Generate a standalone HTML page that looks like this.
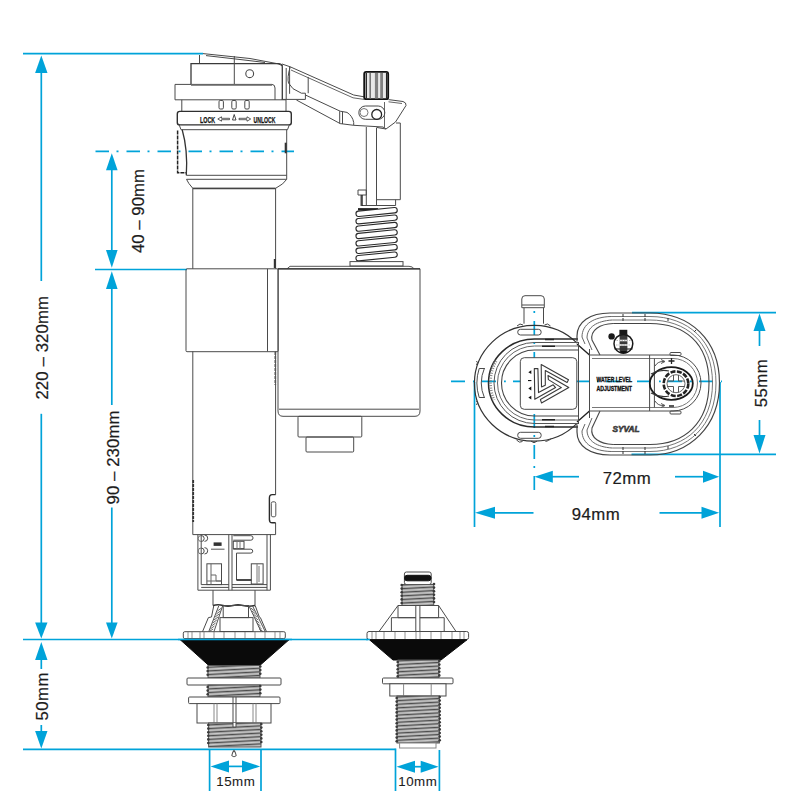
<!DOCTYPE html>
<html><head><meta charset="utf-8">
<style>
html,body{margin:0;padding:0;background:#fff;width:800px;height:800px;overflow:hidden}
svg{display:block}
text{font-family:"Liberation Sans",sans-serif}
</style></head><body>
<svg width="800" height="800" viewBox="0 0 800 800">
<defs>
<pattern id="thr" width="80" height="3.6" patternUnits="userSpaceOnUse" patternTransform="rotate(-3)">
  <rect width="80" height="3.6" fill="#a3a3a3"/>
  <rect y="0" width="80" height="1" fill="#4d4d4d"/>
  <rect y="1.9" width="80" height="0.9" fill="#d0d0d0"/>
</pattern>
</defs>
<!-- ============ BLUE DIMENSIONS ============ -->
<g stroke="#00a3d9" stroke-width="1.7" fill="none">
  <!-- top reference -->
  <line x1="23" y1="53.6" x2="203" y2="53.6"/>
  <!-- 220-320 vertical -->
  <line x1="41.3" y1="70" x2="41.3" y2="281"/>
  <line x1="41.3" y1="413.8" x2="41.3" y2="625"/>
  <!-- dash dot water level -->
  <line x1="95.5" y1="151.3" x2="294" y2="151.3" stroke-dasharray="13.5 7.5 2 8"/>
  <!-- 40-90 vertical -->
  <line x1="111.8" y1="168" x2="111.8" y2="252"/>
  <!-- level 269 -->
  <line x1="95" y1="269.5" x2="187" y2="269.5"/>
  <!-- 90-230 vertical -->
  <line x1="111.8" y1="287" x2="111.8" y2="405"/>
  <line x1="111.8" y1="507.5" x2="111.8" y2="625"/>
  <!-- 639 level -->
  <line x1="23" y1="639.5" x2="368" y2="639.5"/>
  <!-- 50mm -->
  <line x1="41.3" y1="658" x2="41.3" y2="669"/>
  <line x1="41.3" y1="725" x2="41.3" y2="733"/>
  <!-- bottom level -->
  <line x1="23" y1="749.3" x2="395.5" y2="749.3"/>
  <line x1="395.5" y1="748.5" x2="395.5" y2="791"/>
  <line x1="209.6" y1="749.3" x2="209.6" y2="791"/>
  <line x1="261" y1="749.3" x2="261" y2="791"/>
  <line x1="439.4" y1="750" x2="439.4" y2="791"/>
  <line x1="225" y1="766.4" x2="246" y2="766.4"/>
  <line x1="412" y1="766.7" x2="424" y2="766.7"/>
  <!-- right top view -->
  <line x1="451" y1="381.4" x2="722" y2="381.4" stroke-dasharray="14 8 1.8 7.2"/>
  <line x1="534.3" y1="311" x2="534.3" y2="491" stroke-dasharray="2 8 14 7" />
  <line x1="474.5" y1="382" x2="474.5" y2="527"/>
  <line x1="720" y1="382" x2="720" y2="527"/>
  <line x1="632" y1="312.6" x2="776" y2="312.6"/>
  <line x1="631.5" y1="454.3" x2="776" y2="454.3"/>
  <line x1="759.5" y1="329" x2="759.5" y2="346"/>
  <line x1="759.5" y1="420" x2="759.5" y2="437"/>
  <line x1="550" y1="476.7" x2="579" y2="476.7"/>
  <line x1="675" y1="476.7" x2="705" y2="476.7"/>
  <line x1="493" y1="512.8" x2="533.5" y2="512.8"/>
  <line x1="659.5" y1="512.8" x2="703" y2="512.8"/>
</g>
<g fill="#00a3d9">
  <polygon points="41.3,55.5 35.1,73 47.5,73"/>
  <polygon points="41.3,638.5 35.1,622.5 47.5,622.5"/>
  <polygon points="111.8,153.3 106,170.3 117.6,170.3"/>
  <polygon points="111.8,267.7 106,250 117.6,250"/>
  <polygon points="111.8,271.2 106,289 117.6,289"/>
  <polygon points="111.8,638.5 106,622.5 117.6,622.5"/>
  <polygon points="41.3,642 35.1,660 47.5,660"/>
  <polygon points="41.3,748.5 35.1,731 47.5,731"/>
  <polygon points="210.5,766.4 229,760.4 229,772.4"/>
  <polygon points="260.2,766.4 242,760.4 242,772.4"/>
  <polygon points="396.5,766.7 415,760.7 415,772.7"/>
  <polygon points="438.6,766.7 420.7,760.7 420.7,772.7"/>
  <polygon points="759.5,313.5 753.5,331 765.5,331"/>
  <polygon points="759.5,453.5 753.5,435 765.5,435"/>
  <polygon points="534.5,476.7 552.8,470.7 552.8,482.7"/>
  <polygon points="719.2,476.7 703,470.7 703,482.7"/>
  <polygon points="475,512.8 495,506.8 495,518.8"/>
  <polygon points="719.2,512.8 701.5,506.8 701.5,518.8"/>
</g>
<!-- ============ DIMENSION TEXT ============ -->
<g fill="#1c1c1c" font-size="16.8" stroke="#1c1c1c" stroke-width="0.22" letter-spacing="0.5">
  <text transform="translate(47.8,347.8) rotate(-90)" text-anchor="middle" textLength="103.5" lengthAdjust="spacing" letter-spacing="0">220 – 320mm</text>
  <text transform="translate(143.5,211) rotate(-90)" text-anchor="middle" textLength="84" lengthAdjust="spacing" letter-spacing="0">40 – 90mm</text>
  <text transform="translate(118.5,457.5) rotate(-90)" text-anchor="middle" textLength="94" lengthAdjust="spacing" letter-spacing="0">90 – 230mm</text>
  <text transform="translate(47.8,696.3) rotate(-90)" text-anchor="middle">50mm</text>
  <text transform="translate(767.3,383) rotate(-90)" text-anchor="middle">55mm</text>
  <text x="627" y="484" text-anchor="middle">72mm</text>
  <text x="596" y="520" text-anchor="middle">94mm</text>
  <text x="235.8" y="786" text-anchor="middle" font-size="13.3" stroke-width="0.1">15mm</text>
  <text x="417.8" y="785.7" text-anchor="middle" font-size="13.3" stroke-width="0.1">10mm</text>
</g>
<!-- ============ MAIN VALVE DRAWING ============ -->
<g id="main" stroke="#4a4a4a" stroke-width="1" fill="none">
  <!-- lever top slanted lines over cap -->
  <polyline points="203,53.6 250,58.5 278,63.8 283,66"/>
  <polyline points="206,55.6 240,59.5 265,62.5"/>
  <line x1="199.5" y1="55" x2="199.5" y2="63.6"/>
  <!-- cap -->
  <path d="M191,84.4 V63.6 H279 Q282.3,64 282.3,67 V99.8" stroke="#3a3a3a" stroke-width="1.3"/>
  <line x1="234.3" y1="56" x2="234.3" y2="84.4"/>
  <circle cx="249.7" cy="73.7" r="3.9" stroke-width="1.1"/>
  <!-- flange -->
  <path d="M191,84.4 H272 Q275,84.6 275,88 V99.8 M175,84.4 V99.8 H286 M175,84.4 H191"/>
  <line x1="191" y1="84.9" x2="272" y2="84.9" stroke-width="1.8" stroke="#666"/>
  <!-- slotted band -->
  <path d="M181.8,99.8 V111.4 M286,99.8 V111.4"/>
  <rect x="219" y="100.5" width="4.4" height="8.5" rx="1.2"/>
  <rect x="231.8" y="100.5" width="4.4" height="8.5" rx="1.2"/>
  <rect x="244.8" y="100.5" width="4.4" height="8.5" rx="1.2"/>
  <!-- LOCK band -->
  <rect x="177.3" y="111.4" width="114" height="13.5" rx="2.5" stroke="#2f2f2f" stroke-width="1.4"/>
  <path d="M179,124.4 L181,129.7 H287.5 L289.5,124.4"/>
  <!-- upper body -->
  <path d="M182.2,129.7 Q188,150 186.3,175.3" stroke="#333" stroke-width="1.3"/><path d="M286.7,129.7 V179.3"/>
  <path d="M177.6,130.6 V172.8 H186" stroke-dasharray="4 1" stroke="#222" stroke-width="1.5"/>
  <line x1="285.7" y1="142.7" x2="285.7" y2="153.3" stroke-width="2" stroke="#333"/>
  <path d="M186.3,175.3 H286.7 M186.5,179.3 H286.5"/>
  <path d="M186.5,179.3 Q188,183 192.8,188.3 H275.6 Q284,184 286.7,179.3"/>
  <line x1="192.8" y1="188.5" x2="275.6" y2="188.5" stroke-width="1.6" stroke="#444"/>
  <!-- tube -->
  <line x1="192.8" y1="188.3" x2="192.8" y2="268.8"/>
  <line x1="275.6" y1="188.3" x2="275.6" y2="268.8"/>
  <line x1="274.8" y1="259" x2="274.8" y2="268" stroke-width="2" stroke="#333"/>
  <line x1="192.8" y1="351.4" x2="192.8" y2="534.6"/>
  <line x1="275.6" y1="351.4" x2="275.6" y2="494.6"/>
  <line x1="275.6" y1="522.8" x2="275.6" y2="534.6"/>
  <line x1="275.3" y1="352" x2="275.3" y2="385" stroke-width="1.6" stroke="#555" stroke-dasharray="3 1"/>
  <line x1="193.2" y1="480" x2="193.2" y2="522" stroke-width="1.8" stroke="#333" stroke-dasharray="3 1"/>
  <path d="M275.6,494.6 H272.2 Q269.4,494.6 269.4,498 V519.4 Q269.4,522.8 272.2,522.8 H275.6" stroke="#2a2a2a" stroke-width="1.4"/><rect x="271.3" y="501.8" width="4.5" height="15" rx="1.6" stroke="#555"/>
  <line x1="192.8" y1="534.6" x2="275.6" y2="534.6"/>
  <!-- collar -->
  <rect x="186" y="268.8" width="92.2" height="82.9" rx="1"/>
  <line x1="267.5" y1="268.8" x2="267.5" y2="351.4"/>
  <!-- float -->
  <path d="M278,268.8 H420 V411 Q420,416.3 415,416.3 H283 Q278,416.3 278,411 Z"/>
  <line x1="279" y1="409.2" x2="419" y2="409.2"/>
  <path d="M287,268.8 L290,266.3 H409 Q413,266.5 414,268.8" stroke="#555"/><line x1="278" y1="268.9" x2="420" y2="268.9" stroke-width="1.4" stroke="#333"/>
  <rect x="298" y="416.3" width="63.8" height="20.7" rx="1"/>
  <rect x="306" y="437" width="47.7" height="15" rx="1"/>
  <!-- cage -->
  <path d="M197.9,534.6 V590.2 H270.4 V534.6 M267,534.6 V590.2 M228.8,534.6 V590.2 M232,534.6 V590.2"/>
  <!-- cage internals -->
  <path d="M201.2,534.6 V584.6 M201.2,584.6 H228.8 M201.2,587.4 H228.8"/>
  <path d="M201.2,535.5 A3,3 0 0 1 201.2,541.5 M204.5,535 A3.2,3.2 0 0 1 204.5,541.4 M201.2,548 A3,3 0 0 1 201.2,554 M204.5,547.6 A3.2,3.2 0 0 1 204.5,554"/>
  <path d="M201.2,535.5 A3,3 0 0 0 201.2,541.5 M201.2,548 A3,3 0 0 0 201.2,554" stroke="#777"/>
  <rect x="213.6" y="542.4" width="8" height="3.5" fill="#333" stroke="none"/>
  <line x1="211" y1="549.2" x2="224.5" y2="549.2" stroke="#555"/>
  <rect x="206.9" y="563.8" width="14.6" height="20.8"/>
  <path d="M211,563.8 V584.6 M211,575 H216 V581 H221.5 M206.9,581 H221.5" stroke="#666"/>
  <path d="M233.3,535.7 H250.8 A2.25,2.25 0 0 1 250.8,540.2 H233.3 M233.3,549.2 H250.8 A1.95,1.95 0 0 1 250.8,553.1 H236.5 V580 H251.3"/>
  <rect x="233.3" y="541.3" width="10.7" height="7.3"/>
  <path d="M237,541.3 V548.6 M240,541.3 V548.6" stroke="#777"/>
  <rect x="251.3" y="563.8" width="11.8" height="20.2"/>
  <path d="M257,563.8 V584 M259,566 V582" stroke="#777"/>
  <path d="M236.5,580 H251.3" stroke="#222" stroke-width="1.4"/>
  <path d="M232,584.6 H267 M232,587.4 H267"/>
  <!-- neck -->
  <path d="M213,590.2 V605.5 M255,590.2 V605.5"/>
  <path d="M213,605.5 q5,-1.5 10,0 t10,0 t10,0 t12,0" stroke-width="1.6" stroke="#333"/>
  <!-- frustum -->
  <path d="M213.8,605.5 L211.5,617 L208.4,617.6 L202.5,631.7 M255.2,605.5 L259.3,617 L260.4,617.6 L266.5,631.7"/>
  <path d="M218.7,606 L208.8,631.5 M222.6,606 L214,631.5 M249,606 L261,631.5 M252.6,606 L265.2,631.5" stroke="#555"/>
  <rect x="223.2" y="605.5" width="25.3" height="12.1"/>
  <rect x="220" y="617.6" width="33" height="13.9"/>
  <g stroke-width="0.9" stroke="#555">
    <path d="M217.5,611 L221.5,608 M216.3,614 L220.4,611 M215.1,617 L219.2,614 M213.9,620 L218,617 M212.7,623 L216.8,620 M211.5,626 L215.6,623 M210.3,629 L214.4,626 M209.2,631.5 L213.2,629"/>
    <path d="M250.8,608 L254.5,611 M252,611 L255.7,614 M253.2,614 L256.9,617 M254.4,617 L258.1,620 M255.6,620 L259.3,623 M256.8,623 L260.5,626 M258,626 L261.7,629 M259.2,629 L262.9,631.5"/>
  </g>
  <!-- flange -->
  <rect x="183.3" y="631.7" width="102" height="6.9" rx="1.5"/>
  <path d="M188,632 V638 M192,632 V638 M200,632 V638 M204,632 V638 M214,632 V638 M224,632 V638 M235,632 V638 M245,632 V638 M255,632 V638 M265,632 V638 M275,632 V638 M280,632 V638" stroke="#777" stroke-width="0.8"/>
  <!-- black cone -->
  <polygon points="180.3,639.8 289,639.8 259.8,665.5 208.8,665.5" fill="#0a0a0a" stroke="#0a0a0a"/>
  <!-- threads -->
  <rect x="208" y="665.5" width="52" height="12.5" fill="url(#thr)" stroke="#555"/>
  <rect x="187" y="678" width="94" height="7" fill="#fff" rx="1"/>
  <rect x="208" y="685" width="52" height="12" fill="url(#thr)" stroke="#555"/>
  <rect x="188.6" y="697" width="91.4" height="6.6" fill="#fff" rx="1"/>
  <rect x="197" y="703.6" width="74" height="19.4" fill="#fff"/>
  <path d="M214,703.6 V723 M217,703.6 V723 M253,703.6 V723 M256,703.6 V723" stroke="#888"/>
  <path d="M233,697 V727 M236,697 V727 H233"/>
  <rect x="208.6" y="723" width="52.4" height="24" fill="url(#thr)" stroke="#555"/>
  <path d="M233,723 V727 H236 V723" fill="#fff"/>
  <path d="M231.8,755.5 Q232.5,752 234,750.5 Q235.5,752 236.2,755.5 Q234,758 231.8,755.5 Z" stroke="#555" stroke-width="1.1"/>
</g>

<g id="lever" stroke="#4a4a4a" stroke-width="1" fill="none">
  <!-- lever arm -->
  <path d="M282,64 L290.2,66.8 L353.7,95 L364,96.8 M388.5,99.6 L403,101.5 Q406.5,102.5 406,105.5 L395.5,122 L386,129 L377,127.5"/>
  <path d="M291,70 L353,97.8 L364,99.4 M388.5,101.8 L402,103.5" stroke="#666"/>
  <path d="M296.4,100 L340.2,123.6 L353.7,125.3 L383,127 L386,129"/>
  <path d="M305.4,95 L340.2,111.2 L347,112.4 Q352.6,116 353.7,122.5 L353.7,125.3"/>
  <path d="M339.7,111.2 V123.4 M342.5,111.6 V124"/>
  <path d="M290.2,66.8 Q287,78 288.5,83 L293,88.7 L301.4,93.2 H305.4 V99.4 M308.2,77 V93.2"/>
  <path d="M286.2,68 V99.4 M289.6,67 V93.8 M281.7,99.4 H305.4"/>
  <path d="M384.5,102 V129" stroke="#666"/>
  <!-- pivot -->
  <rect x="358.8" y="106" width="26" height="13.3" rx="6.6"/>
  <circle cx="376.7" cy="114.4" r="4.9" stroke-width="1.3" stroke="#222"/>
  <circle cx="364" cy="112.5" r="4" stroke="#777"/>
  
  <!-- knob -->
  <rect x="364.2" y="71.9" width="24" height="27.3" rx="2" fill="#e8e8e8" stroke="#111" stroke-width="1.8"/>
  <path d="M370.2,73 V98.5" stroke="#777" stroke-width="1.6"/><path d="M376.5,73 V98.5" stroke="#808080" stroke-width="3.2"/><path d="M381.6,73 V98.5" stroke="#808080" stroke-width="2.8"/><path d="M366.3,73 V98.5 M386.6,73 V98.5" stroke="#222" stroke-width="1.3"/>
  <!-- rod and box -->
  <path d="M366.3,127 V205 M376.5,127.5 V205 M396,123 H400.3 V199.7 H376.5 M395.6,199.7 V205.5 H362"/>
  <path d="M358,190 H366.3 V195 H358 Z M361,195 V206" />
  <line x1="362" y1="195" x2="362" y2="206" stroke="#222" stroke-width="1.4"/>
  <!-- spring -->
  <g fill="none">
<path d="M358,209.3 H378" stroke="#222" stroke-width="2.4"/>
<path d="M358.6,213.8 L394.6,210.2" stroke="#2a2a2a" stroke-width="6.4" stroke-linecap="round"/><path d="M358.6,213.8 L394.6,210.2" stroke="#fff" stroke-width="4.2" stroke-linecap="round"/>
<path d="M358.6,221.2 L394.6,217.6" stroke="#2a2a2a" stroke-width="6.4" stroke-linecap="round"/><path d="M358.6,221.2 L394.6,217.6" stroke="#fff" stroke-width="4.2" stroke-linecap="round"/>
<path d="M358.6,228.6 L394.6,225.0" stroke="#2a2a2a" stroke-width="6.4" stroke-linecap="round"/><path d="M358.6,228.6 L394.6,225.0" stroke="#fff" stroke-width="4.2" stroke-linecap="round"/>
<path d="M358.6,236.0 L394.6,232.4" stroke="#2a2a2a" stroke-width="6.4" stroke-linecap="round"/><path d="M358.6,236.0 L394.6,232.4" stroke="#fff" stroke-width="4.2" stroke-linecap="round"/>
<path d="M358.6,243.4 L394.6,239.8" stroke="#2a2a2a" stroke-width="6.4" stroke-linecap="round"/><path d="M358.6,243.4 L394.6,239.8" stroke="#fff" stroke-width="4.2" stroke-linecap="round"/>
<path d="M358.6,250.8 L394.6,247.2" stroke="#2a2a2a" stroke-width="6.4" stroke-linecap="round"/><path d="M358.6,250.8 L394.6,247.2" stroke="#fff" stroke-width="4.2" stroke-linecap="round"/>
<path d="M358.6,258.2 L394.6,254.6" stroke="#2a2a2a" stroke-width="6.4" stroke-linecap="round"/><path d="M358.6,258.2 L394.6,254.6" stroke="#fff" stroke-width="4.2" stroke-linecap="round"/>
</g>
  <rect x="350" y="261.6" width="53" height="4.4"/>
</g>
<g id="valve2" stroke="#4a4a4a" stroke-width="1" fill="none">
  <rect x="404.4" y="572" width="26.8" height="12.5" rx="2"/>
  <rect x="404.6" y="575.3" width="26.4" height="5.5" rx="2.5" fill="#111" stroke="#111"/>
  <rect x="402" y="584.5" width="31.7" height="21" fill="url(#thr)" stroke="#555"/>
  <path d="M398,605.5 H438.6 L456,631.5 H379 Z" fill="#fff"/>
  <path d="M398,605.5 V617.7 H415.8 M438.6,605.5 V617.7 H419.9 M415.8,605.5 V631.5 M419.9,605.5 V631.5 M391.4,617.7 V631.5 M444.2,617.7 V631.5 M391.4,617.7 H415.8 M419.9,617.7 H444.2"/>
  <rect x="367" y="631.5" width="101.6" height="8" rx="2" fill="#fff"/>
  <path d="M372,632 V639 M376,632 V639 M384,632 V639 M395,632 V639 M405,632 V639 M416,632 V639 M420,632 V639 M431,632 V639 M441,632 V639 M452,632 V639 M460,632 V639 M464,632 V639" stroke="#777" stroke-width="0.8"/>
  <polygon points="369.5,639.8 467,639.8 441,660 393,660" fill="#0a0a0a" stroke="#0a0a0a"/>
  <rect x="398" y="660" width="41" height="18" fill="url(#thr)" stroke="#555"/>
  <rect x="382.5" y="678" width="70.5" height="5.8" rx="1" fill="#fff"/>
  <rect x="389.8" y="683.8" width="56.2" height="12.2" fill="#fff"/>
  <path d="M403.6,683.8 V696 M431.2,683.8 V696" stroke="#888"/>
  <rect x="397" y="696" width="42.4" height="47" fill="url(#thr)" stroke="#555"/>
  <rect x="399.6" y="743" width="36.4" height="5" fill="#fff" stroke="#888"/>
</g>

<g id="top" stroke="#4a4a4a" stroke-width="1" fill="none">
  <!-- nozzle -->
  <path d="M524,323.7 V307.7 M543.5,307.7 V323.7"/>
  <path d="M521.8,307.7 V299 Q521.8,295.7 525,295.7 H541 Q544.3,295.7 544.3,299 V307.7 Z"/>
  <line x1="522" y1="305" x2="544" y2="305"/>
  <!-- body circle -->
  <path d="M577,343.2 A59.6,57.9 0 1 0 577,423.4" stroke-width="1.2" stroke="#333"/>
  <path d="M476.5,361 q2,1.5 0,4 M476.5,401 q2,1.5 0,4" stroke="#444"/>
  <path d="M517,326 q3,-3.5 6,-1 M544.5,325 q3,-2.5 6,1 M516.5,440 q3,3.5 6,1.5 M531,441.2 q3,3 6,0 M545.5,441.5 q3,-0.5 6,-3" stroke="#444"/>
  <path d="M578,339 H534.5 A46,44 0 0 0 534.5,427 H578" stroke-width="1.5" stroke="#2a2a2a"/>
  <path d="M578,342.5 H534.5 A40.5,40.5 0 0 0 534.5,423.5 H578" stroke-width="1" stroke="#555"/>
  <path d="M578,346 H534.5 A37,37 0 0 0 534.5,420 H578" stroke-width="1" stroke="#666"/>
  <path d="M578,350 H534.5 A33,33 0 0 0 534.5,416 H578" stroke-width="1.1" stroke="#444"/>

  <path d="M496,361 A44,44 0 0 0 494,400" stroke="#888" stroke-width="3" stroke-dasharray="1 1.5"/>
  <!-- slots -->
  <rect x="517.7" y="329.3" width="23.5" height="5.7" rx="2.8"/>
  <rect x="517.7" y="432.3" width="23.5" height="6" rx="2.8"/>
  <path d="M484.5,368 Q478,383 484.5,398 M479.2,368.5 Q474.5,383 479.2,397.5 M479.2,368.5 H484.5 M479.2,397.5 H484.5"/>
  <path d="M545,339.5 h9 M542,346.2 h13 M545,426.5 h9 M542,419.8 h13" stroke="#222" stroke-width="1.5"/>
  <!-- square and logo -->
  <rect x="520.3" y="357.7" width="56.5" height="51.6" rx="4" fill="#fff"/>
  <g stroke="#3a3a3a" stroke-width="1.1" stroke-linejoin="round">
  <polygon points="541.2,364.6 568.5,379.8 567.1,382.4 545.3,370.6 545.3,385.3 541.5,386.9"/>
  <polygon points="548,375.5 568.8,387.6 541.5,402.9 540.4,399.6 561.4,387.6 548.4,379.6"/>
  <polygon points="534.3,368.6 537.9,368.6 538.5,392.6 553.2,384.8 555.6,387.6 534.8,399.3"/>
  </g>
  <g fill="#111" stroke="none">
    <polygon points="528.3,372.2 531.3,370.3 531.3,374.1"/>
    <polygon points="528.3,388.5 531.3,386.6 531.3,390.4"/>
    <polygon points="528.3,397.6 531.3,395.7 531.3,399.5"/>
    <rect x="528" y="380" width="3.4" height="1.1"/>
  </g>
  <!-- D float -->
  <path d="M610.0,313 H650 C690.0,313 719.5,340.0 719.5,383 C719.5,426.0 690.0,455 650,455 H610.0" stroke-width="1.2" stroke="#444"/>
  <path d="M611.05,316.5 H650 C687.9,316.5 716.0,340.7 716.0,383 C716.0,425.3 687.9,451.5 650,451.5 H611.05" stroke-width="0.9" stroke="#666"/>
  <path d="M612.1,320 H650 C685.8,320 712.5,341.4 712.5,383 C712.5,424.6 685.8,448 650,448 H612.1" stroke-width="0.9" stroke="#666"/>
  <path d="M613.15,323.5 H650 C683.7,323.5 709.0,342.1 709.0,383 C709.0,423.9 683.7,444.5 650,444.5 H613.15" stroke-width="1.1" stroke="#444"/>

  <path d="M610,313 C590,313 577,322 577,336 V341.4" stroke-width="1.2" stroke="#444"/>
  <path d="M610,455 C590,455 577,446 577,432 V424.6" stroke-width="1.2" stroke="#444"/>
  <path d="M611,316.5 C594,317 582,324 582,337 L585,344" stroke="#666"/>
  <path d="M612,320 C597,321 587,327 587,338 L592,350" stroke="#666"/>
  <path d="M613,323.5 C600,324 590,330 592,340 L600,355" stroke-width="1.1"/>
  <path d="M611,451.5 C594,451 582,444 582,431 L585,424" stroke="#666"/>
  <path d="M612,448 C597,447 587,441 587,430 L592,418" stroke="#666"/>
  <path d="M613,444.5 C600,444 590,438 592,428 L600,411" stroke-width="1.1"/>
  <path d="M577,344 L589.5,355 M577,422 L589.5,411" stroke="#222" stroke-width="1.4"/>
  <!-- arm -->
  <path d="M578.5,342 V424 M589.5,349 V418"/>
  <path d="M589.5,355 H673 A28,28 0 0 1 673,411 H589.5"/>
  <path d="M592,358.5 H673 A24.5,24.5 0 0 1 673,407.5 H592" stroke="#777"/>
  <path d="M649.6,355 V411 M654.4,358.5 V407.5"/>
  <rect x="670" y="352.5" width="11" height="3" rx="1"/>
  <rect x="670" y="411" width="11" height="3" rx="1"/>
  <!-- knob -->
  <ellipse cx="671.3" cy="383.5" rx="21.5" ry="16.3" stroke="#1a1a1a" stroke-width="1.8"/>
  <circle cx="676" cy="383.7" r="12.3" stroke="#222" stroke-width="2.6" stroke-dasharray="5 1.5"/>
  <circle cx="676" cy="383.7" r="9" stroke="#666"/>
  <path d="M673.5,375 V381 H667.5 M678.5,375 V381 H684.5 M673.5,392.5 V386.5 H667.5 M678.5,392.5 V386.5 H684.5" stroke="#555"/>
  <path d="M651,374 Q660,369 669,371 M651,393 Q660,398 669,396" stroke="#333" stroke-width="1.2"/>
  <path d="M655,366 Q658,361 664,361.5 M655,401 Q658,406 664,405.5" stroke="#555"/>
  <path d="M661,359.5 L665,361.5 L661,363.5 M661,403.5 L665,405.5 L661,407.5" stroke="#555"/>
  <path d="M671.5,358 V364 M668.5,361 H674.5 M669,406 H674" stroke="#222" stroke-width="1.3"/>
  <!-- logo circle -->
  <rect x="619.6" y="334.5" width="7.8" height="18.5" fill="#3a3a3a" stroke="none"/>
  <path d="M615,340.5 H632 M614.5,345 H632.5" stroke="#fff" stroke-width="1.6"/>
  <path d="M616.5,340.5 H630.5 M616,345 H631" stroke="#888" stroke-width="0.6" stroke-dasharray="1.5 1"/>
  <path d="M614.5,349 H632.5" stroke="#333" stroke-width="1.2"/>
  <circle cx="623.4" cy="343.8" r="9.4" stroke="#1a1a1a" stroke-width="1.5"/>
  <circle cx="611.6" cy="336.4" r="3.2" fill="#1a1a1a" stroke="none"/>
  <rect x="619.4" y="329.8" width="7.9" height="5" fill="#1a1a1a" stroke="none"/>
  <rect x="620.5" y="351" width="6" height="2.4" fill="#111" stroke="none"/>
  <!-- band ticks -->
  <path d="M623,314 v3 M623,318 v3 M645,314 v3 M645,318 v3 M623,447 v3 M623,451 v3 M645,447 v3 M645,451 v3 M668,318 v3 M668,446 v3 M696,330 l-2,2 M696,436 l-2,-2" stroke="#333"/>
</g>
<g fill="#111" font-weight="bold">
  <text x="596.5" y="382.4" font-size="7.4" textLength="35.5" lengthAdjust="spacingAndGlyphs" stroke="#111" stroke-width="0.35">WATER LEVEL</text>
  <text x="596.5" y="391" font-size="7.4" textLength="35.5" lengthAdjust="spacingAndGlyphs" stroke="#111" stroke-width="0.35">ADJUSTMENT</text>
  <text x="612.5" y="431.8" font-size="8.6" font-style="italic" fill="#666" textLength="27" lengthAdjust="spacingAndGlyphs" font-weight="bold" stroke="#222" stroke-width="0.55">SYVAL</text>
  <text x="200" y="122.6" font-size="9.3" textLength="15.2" lengthAdjust="spacingAndGlyphs" stroke="#111" stroke-width="0.25">LOCK</text>
  <text x="253.5" y="122.6" font-size="9.3" textLength="22" lengthAdjust="spacingAndGlyphs" stroke="#111" stroke-width="0.25">UNLOCK</text>
</g>
<g stroke="#333" stroke-width="0.9" fill="none">
  <path d="M229.5,118.3 H221.5 V116.8 L217.8,119 L221.5,121.2 V119.7 H229.5 Z" stroke-width="0.8"/>
  <path d="M239,118.3 H247 V116.8 L250.7,119 L247,121.2 V119.7 H239 Z" stroke-width="0.8"/>
  <path d="M234.2,114.5 L236,120 H232.5 Z"/>
</g>
<g fill="#3a3a3a" stroke="none">
<circle cx="207.7" cy="667.5" r="1.3"/><circle cx="260.3" cy="666.5" r="1.3"/><circle cx="207.7" cy="671.1" r="1.3"/><circle cx="260.3" cy="670.1" r="1.3"/><circle cx="207.7" cy="674.7" r="1.3"/><circle cx="260.3" cy="673.7" r="1.3"/>
<circle cx="207.7" cy="687.0" r="1.3"/><circle cx="260.3" cy="686.0" r="1.3"/><circle cx="207.7" cy="690.6" r="1.3"/><circle cx="260.3" cy="689.6" r="1.3"/><circle cx="207.7" cy="694.2" r="1.3"/><circle cx="260.3" cy="693.2" r="1.3"/>
<circle cx="208.29999999999998" cy="725.0" r="1.3"/><circle cx="261.3" cy="724.0" r="1.3"/><circle cx="208.29999999999998" cy="728.6" r="1.3"/><circle cx="261.3" cy="727.6" r="1.3"/><circle cx="208.29999999999998" cy="732.2" r="1.3"/><circle cx="261.3" cy="731.2" r="1.3"/><circle cx="208.29999999999998" cy="735.8" r="1.3"/><circle cx="261.3" cy="734.8" r="1.3"/><circle cx="208.29999999999998" cy="739.4" r="1.3"/><circle cx="261.3" cy="738.4" r="1.3"/><circle cx="208.29999999999998" cy="743.0" r="1.3"/><circle cx="261.3" cy="742.0" r="1.3"/>
<circle cx="401.7" cy="585.0" r="1.3"/><circle cx="434.0" cy="584.0" r="1.3"/><circle cx="401.7" cy="588.6" r="1.3"/><circle cx="434.0" cy="587.6" r="1.3"/><circle cx="401.7" cy="592.2" r="1.3"/><circle cx="434.0" cy="591.2" r="1.3"/><circle cx="401.7" cy="595.8" r="1.3"/><circle cx="434.0" cy="594.8" r="1.3"/><circle cx="401.7" cy="599.4" r="1.3"/><circle cx="434.0" cy="598.4" r="1.3"/><circle cx="401.7" cy="603.0" r="1.3"/><circle cx="434.0" cy="602.0" r="1.3"/>
<circle cx="397.7" cy="662.0" r="1.3"/><circle cx="439.3" cy="661.0" r="1.3"/><circle cx="397.7" cy="665.6" r="1.3"/><circle cx="439.3" cy="664.6" r="1.3"/><circle cx="397.7" cy="669.2" r="1.3"/><circle cx="439.3" cy="668.2" r="1.3"/><circle cx="397.7" cy="672.8" r="1.3"/><circle cx="439.3" cy="671.8" r="1.3"/><circle cx="397.7" cy="676.4" r="1.3"/><circle cx="439.3" cy="675.4" r="1.3"/>
<circle cx="396.7" cy="698.0" r="1.3"/><circle cx="439.7" cy="697.0" r="1.3"/><circle cx="396.7" cy="701.6" r="1.3"/><circle cx="439.7" cy="700.6" r="1.3"/><circle cx="396.7" cy="705.2" r="1.3"/><circle cx="439.7" cy="704.2" r="1.3"/><circle cx="396.7" cy="708.8" r="1.3"/><circle cx="439.7" cy="707.8" r="1.3"/><circle cx="396.7" cy="712.4" r="1.3"/><circle cx="439.7" cy="711.4" r="1.3"/><circle cx="396.7" cy="716.0" r="1.3"/><circle cx="439.7" cy="715.0" r="1.3"/><circle cx="396.7" cy="719.6" r="1.3"/><circle cx="439.7" cy="718.6" r="1.3"/><circle cx="396.7" cy="723.2" r="1.3"/><circle cx="439.7" cy="722.2" r="1.3"/><circle cx="396.7" cy="726.8" r="1.3"/><circle cx="439.7" cy="725.8" r="1.3"/><circle cx="396.7" cy="730.4" r="1.3"/><circle cx="439.7" cy="729.4" r="1.3"/><circle cx="396.7" cy="734.0" r="1.3"/><circle cx="439.7" cy="733.0" r="1.3"/><circle cx="396.7" cy="737.6" r="1.3"/><circle cx="439.7" cy="736.6" r="1.3"/><circle cx="396.7" cy="741.2" r="1.3"/><circle cx="439.7" cy="740.2" r="1.3"/>
</g>
<line x1="178" y1="639.5" x2="292" y2="639.5" stroke="#00a3d9" stroke-width="1.5"/>
<line x1="366" y1="639.5" x2="370" y2="639.5" stroke="#00a3d9" stroke-width="1.5"/>
</svg>
</body></html>
